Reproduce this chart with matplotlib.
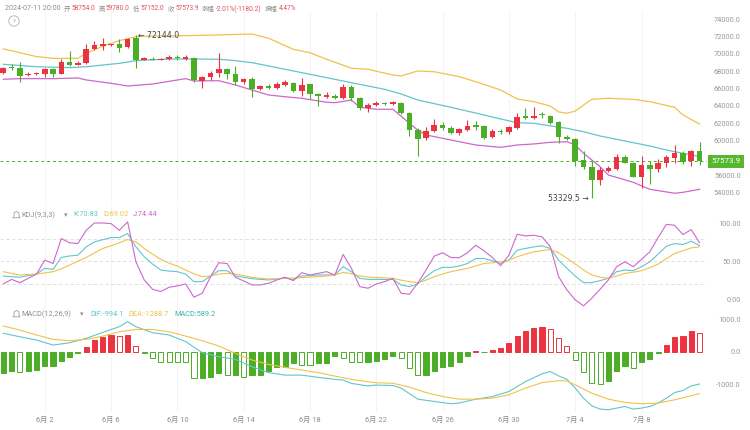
import matplotlib
matplotlib.use('Agg')
import matplotlib.pyplot as plt
import matplotlib.patches as mpatches
from matplotlib.transforms import IdentityTransform
import pandas as pd

plt.rcParams['font.family'] = ['Roboto', 'Noto Sans CJK SC', 'DejaVu Sans']

# 12h candles, 2024-05-30 20:00 .. 2024-07-11 20:00
times = pd.date_range('2024-05-30 20:00', periods=85, freq='12h')

opens = [67840, 68530, 68420, 67570, 67650, 67720, 68270, 67720, 69110, 68760,
         68960, 70580, 70960, 71000, 71160, 70770, 71810, 69340, 69450, 69340,
         69420, 69650, 69420, 69570, 66910, 67310, 67770, 68270, 67690, 66730,
         67080, 65990, 66340, 66100, 66420, 66690, 65720, 66500, 65340, 65030,
         65180, 64880, 66220, 64880, 63720, 64100, 64370, 64260, 64300, 63220,
         61210, 60250, 61100, 61790, 61410, 60830, 61210, 61790, 61680, 60370,
         61140, 60950, 61410, 62830, 62640, 63030, 62830, 62170, 60440, 60170,
         57750, 56970, 55430, 56510, 56710, 58130, 57430, 55820, 57170, 56710,
         57370, 58010, 58520, 57630, 58754.0]
closes = [68420, 68350, 67490, 67720, 67800, 68270, 67720, 69110, 68730, 69000,
          70580, 71040, 71120, 71100, 70730, 71730, 69340, 69500, 69340, 69450,
          69650, 69480, 69620, 67000, 67380, 67770, 68270, 67690, 66730, 67110,
          65990, 66340, 66100, 66500, 66730, 65720, 66420, 65340, 65110, 65260,
          64880, 66220, 64880, 63720, 64100, 64370, 64260, 64400, 63220, 61210,
          60130, 61100, 61790, 61410, 60830, 61290, 61720, 61600, 60250, 61100,
          60950, 61520, 62750, 62600, 62870, 62910, 61990, 60370, 60140, 57670,
          56970, 55430, 56590, 56790, 58130, 57430, 55820, 57170, 56710, 57370,
          58130, 58520, 57550, 58790, 57573.9]
highs = [68550, 68810, 69040, 67880, 67900, 68400, 68400, 69390, 70350, 69190,
         71120, 71500, 71820, 71200, 71700, 71810, 72144.0, 69650, 69600, 69550,
         69880, 69880, 69885, 69690, 67490, 68070, 70080, 68420, 68650, 67260,
         67340, 66420, 66520, 66800, 67030, 66730, 67260, 66580, 65450, 65640,
         65340, 66580, 66420, 65070, 64300, 64600, 64450, 64550, 64450, 63340,
         61410, 61600, 62450, 62180, 61680, 61480, 62370, 62290, 61790, 61300,
         61300, 61720, 63220, 63790, 63840, 63260, 62950, 62290, 60640, 60320,
         58790, 57630, 56900, 57050, 58440, 58360, 57550, 58210, 57670, 57830,
         58320, 59480, 58820, 58900, 59780.0]
lows = [67700, 68150, 66800, 67460, 67550, 67380, 67310, 67640, 68650, 68680,
        68880, 70460, 70460, 70950, 70200, 70740, 68420, 69250, 69250, 69280,
        69340, 69350, 69300, 66800, 66030, 67000, 67310, 67110, 66420, 66570,
        65070, 65840, 65900, 65900, 66300, 65640, 65180, 64800, 64020, 64880,
        64800, 64800, 64570, 63530, 63330, 63990, 64150, 64150, 63070, 60520,
        58210, 60060, 61000, 61210, 60720, 60680, 61140, 61210, 60140, 60290,
        60760, 60760, 61300, 62450, 62490, 62640, 61910, 59680, 60060, 57050,
        56670, 53329.5, 54860, 56390, 56590, 57370, 55750, 54470, 54970, 56400,
        56900, 57370, 57280, 57050, 57152.0]

# bollinger bands (candle index, price)
boll_up_idx = [0, 2, 4, 6, 9, 10, 12, 14, 16, 18, 22, 26, 30, 32, 35, 37, 39, 42, 44, 47,
               48, 50, 52, 55, 57, 60, 62, 64, 66, 67, 68, 69, 70, 71, 73, 76, 78, 81, 82, 84]
boll_up = [70600, 70150, 69700, 69500, 69500, 70080, 70900, 71550, 72000, 72080,
           72120, 72200, 72310, 71820, 70540, 70150, 69390, 68350, 68230, 67570,
           67460, 68040, 67950, 67380, 66800, 65840, 64800, 64490, 63990, 63300,
           63150, 63400, 64100, 64760, 64880, 64760, 64490, 63840, 62950, 61910]
boll_mid_idx = [0, 4, 8, 10, 14, 16, 20, 23, 26, 28, 30, 34, 38, 42, 46, 48, 50, 54, 58, 60,
                62, 64, 66, 68, 70, 72, 74, 76, 78, 80, 82, 84]
boll_mid = [68810, 68530, 68420, 68530, 68920, 69230, 69420, 69420, 69390, 69230,
            69000, 68230, 67460, 66680, 65920, 65380, 64680, 63840, 62950, 62490,
            62060, 61990, 61680, 61410, 61020, 60520, 60140, 59750, 59360, 58900,
            58520, 58130]
boll_low_idx = [0, 2, 6, 9, 10, 13, 15, 18, 22, 23, 26, 28, 30, 32, 34, 36, 39, 40, 42, 43,
                45, 47, 49, 50, 51, 54, 57, 60, 62, 64, 66, 68, 69, 70, 72, 73, 76, 78, 81, 82, 84]
boll_low = [67080, 67150, 67150, 67230, 67000, 66610, 66300, 66530, 67150, 66880,
            66910, 66420, 65840, 65260, 65060, 64880, 64420, 64370, 64680, 63840,
            63610, 63610, 61990, 61210, 60640, 60060, 59480, 59210, 59480, 59600,
            59790, 59860, 59480, 58520, 56970, 56010, 55170, 54360, 53900, 54010, 54360]

k_vals = [30.5, 29.5, 28.8, 31, 33, 40.6, 39.3, 55, 57, 58,
          69, 75.6, 78.5, 81.3, 81.3, 86.6, 69, 56, 46.3, 38.4,
          37, 36.2, 33, 23, 23, 30.5, 37.5, 37.5, 30.5, 28.8,
          27, 26, 25.3, 26.5, 28, 26, 30.5, 31, 31.8, 32,
          31.8, 42.8, 36.2, 27.4, 26, 26, 26, 26, 18.7, 16.5,
          20, 29.6, 37.5, 41.9, 41.9, 43.6, 47, 53.7, 53.7, 50.6,
          47, 51.5, 64.7, 66.9, 69, 70.4, 66.9, 51.5, 40.6, 30.5,
          21.7, 21.7, 24.4, 27.4, 36.2, 38.4, 37.5, 42.8, 49.3, 59.4,
          69.9, 73.4, 72.1, 76.5, 70.83]
d_vals = [36.2, 34, 31.8, 32.5, 33, 34.5, 36.2, 40, 45, 50,
          55, 61, 66.9, 70.5, 74.3, 78.7, 75.5, 66.9, 59.5, 52.4,
          47.5, 43.6, 38.4, 33.5, 29.6, 30.5, 33, 34, 33, 31,
          28.8, 27.5, 26.6, 27, 27.4, 27.8, 28.4, 29, 29.6, 30.5,
          31.8, 35.3, 33.5, 30.5, 29, 28.5, 28, 27.4, 25, 23,
          21.7, 25, 29.6, 33, 36.2, 38.5, 40.6, 44, 47, 48,
          49.3, 51.5, 55.9, 59.5, 62.5, 64, 65.5, 61.2, 54, 46.3,
          38.5, 31.8, 29, 27.4, 30.5, 34, 35.5, 37.5, 41.5, 46.3,
          53.5, 60.3, 64, 67.7, 69.02]
j_vals = [20, 26, 21.7, 27.4, 33, 51.5, 47, 80, 74.3, 73.4,
          91, 100.6, 100.6, 99.7, 91, 102, 49.3, 25.3, 13, 10,
          15.6, 17.4, 20, 2.5, 7.7, 29.6, 48, 47, 28.8, 24,
          18.7, 18.7, 20.9, 25.3, 28.8, 24.4, 34.9, 31.8, 34, 36.2,
          31.8, 59, 40.6, 16.5, 14.3, 20, 23, 27.4, 7.7, 6.4,
          21, 38.4, 56.8, 61.2, 55, 54.6, 61.2, 71.2, 63.8, 55,
          44, 58, 85.7, 83.5, 84.4, 82.2, 69, 29.6, 12, -1,
          -9, 1.2, 13, 25.3, 42.8, 49.3, 42.8, 52.4, 62.5, 81.3,
          98.8, 97.5, 85.3, 91.8, 74.44]

macd_hist = [-645, -585, -615, -585, -565, -440, -435, -275, -155, -50,
             150, 350, 460, 500, 490, 500, 190, -30, -200, -310,
             -320, -325, -330, -820, -810, -770, -670, -720, -710, -790,
             -720, -710, -590, -460, -455, -340, -410, -415, -360, -350,
             -130, -200, -310, -320, -310, -300, -225, -130, -200, -490,
             -730, -710, -580, -460, -430, -330, -130, 20, -15, 50,
             100, 255, 480, 630, 735, 765, 685, 410, 175, -255,
             -610, -970, -980, -900, -590, -430, -510, -330, -225, -30,
             205, 440, 480, 645, 589.2]
dif_idx = [0, 2, 4, 6, 8, 10, 12, 14, 15, 16, 18, 20, 22, 24, 26, 28, 30, 32, 34, 36,
           38, 40, 41, 42, 44, 45, 47, 48, 50, 52, 54, 55, 57, 59, 61, 63, 65, 66, 67, 68,
           69, 70, 71, 72, 73, 74, 75, 76, 77, 78, 79, 80, 81, 82, 83, 84]
dif_vals = [565, 460, 360, 205, 275, 410, 595, 770, 925, 770, 585, 515, 310, -30, -155, -235,
            -460, -645, -720, -720, -790, -850, -870, -975, -1055, -1025, -1040, -1120, -1460,
            -1530, -1600, -1580, -1460, -1380, -1225, -920, -680, -610, -745, -850, -1120,
            -1430, -1665, -1765, -1785, -1735, -1685, -1765, -1735, -1685, -1580, -1430,
            -1255, -1195, -1050, -994.1]
dea_idx = [0, 2, 4, 6, 8, 10, 12, 14, 16, 18, 20, 22, 24, 26, 28, 30, 32, 34, 36, 38,
           40, 42, 44, 45, 47, 49, 51, 53, 55, 57, 59, 61, 63, 65, 67, 68, 69, 71, 73, 75,
           77, 79, 81, 83, 84]
dea_vals = [790, 665, 515, 380, 340, 380, 480, 615, 685, 685, 615, 480, 340, 175, -50, -255,
            -390, -480, -565, -645, -750, -850, -925, -955, -970, -1090, -1255, -1380, -1460,
            -1460, -1430, -1325, -1120, -950, -890, -900, -1020, -1275, -1460, -1560, -1600,
            -1580, -1480, -1355, -1288.7]

tick_days = ['2024-06-02', '2024-06-06', '2024-06-10', '2024-06-14', '2024-06-18',
             '2024-06-22', '2024-06-26', '2024-06-30', '2024-07-04', '2024-07-08']

RED = '#EB3342'
GREEN = '#4CAD26'
TEAL = '#62C5CC'
YELLOW = '#F0C24C'
PURPLE = '#CC68CC'
GRAY = '#909090'
HDR_RED = '#E2505C'

W, H = 750, 430
fig = plt.figure(figsize=(7.5, 4.3), dpi=100)
fig.patch.set_facecolor('white')


def box(x0, y0, x1, y1):
    return [x0 / W, 1 - y1 / H, (x1 - x0) / W, (y1 - y0) / H]


ax = fig.add_axes(box(0, 12, 707, 203))
axk = fig.add_axes(box(0, 207, 707, 308), sharex=ax)
axm = fig.add_axes(box(0, 308, 707, 412), sharex=ax)

idx = list(range(len(closes)))
tick_pos = [i for i, t in enumerate(times) if t.hour == 8 and t.strftime('%Y-%m-%d') in tick_days]
tick_lab = [f'{times[i].month}月 {times[i].day}' for i in tick_pos]

for a in (ax, axk, axm):
    a.set_facecolor('none')
    for s in a.spines.values():
        s.set_visible(False)
    for p in tick_pos:
        a.axvline(p, color='#F3F3F3', lw=0.6, zorder=0)
    a.yaxis.tick_right()
    a.tick_params(axis='y', length=0, pad=24.3, labelsize=5.3, labelcolor='#9A9A9A')
    a.tick_params(axis='x', length=0)

# candles
cols = [RED if c >= o else GREEN for o, c in zip(opens, closes)]
ax.vlines(idx, lows, highs, colors=cols, lw=0.8, zorder=2)
bottoms = [min(o, c) for o, c in zip(opens, closes)]
heights = [max(abs(c - o), 45) for o, c in zip(opens, closes)]
ax.bar(idx, heights, bottom=bottoms, width=0.68, color=cols, zorder=3)

ax.plot(boll_up_idx, boll_up, color=YELLOW, lw=0.9, zorder=1)
ax.plot(boll_mid_idx, boll_mid, color=TEAL, lw=0.9, zorder=1)
ax.plot(boll_low_idx, boll_low, color=PURPLE, lw=0.9, zorder=1)

last = closes[-1]
ax.axhline(last, color=GREEN, lw=0.7, ls=(0, (3, 3)), zorder=1)
ax.annotate(f'{last:.1f}', xy=(1.0, last), xycoords=('axes fraction', 'data'),
            xytext=(3.4, 0), textcoords='offset points', ha='left', va='center',
            fontsize=5.8, color='white',
            bbox=dict(boxstyle='square,pad=0.42', fc='#55B82E', ec='none'))

hi_i = highs.index(max(highs))
lo_i = lows.index(min(lows))
ax.annotate(f'← {highs[hi_i]:.1f}', xy=(hi_i, highs[hi_i]), xytext=(1.5, 0),
            textcoords='offset points', ha='left', va='center', fontsize=5.6,
            color='#444444', family=['DejaVu Sans'])
ax.annotate(f'{lows[lo_i]:.1f} →', xy=(lo_i, lows[lo_i]), xytext=(-2, 0),
            textcoords='offset points', ha='right', va='center', fontsize=5.6,
            color='#444444', family=['DejaVu Sans'])

ax.set_xlim(-0.4, 84.9)
ax.set_ylim(52775, 74855)
price_ticks = list(range(54000, 74001, 2000))
ax.set_yticks(price_ticks)
# the 58000 label sits under the last-price box in the app, so it is left blank
ax.set_yticklabels(['' if abs(v - last) < 1000 else f'{v:.1f}' for v in price_ticks])

# KDJ
for lv in (20, 50, 80):
    axk.axhline(lv, color='#DADADA', lw=0.6, ls=(0, (4, 3)), zorder=0)
axk.plot(idx, k_vals, color=TEAL, lw=0.8)
axk.plot(idx, d_vals, color=YELLOW, lw=0.8)
axk.plot(idx, j_vals, color=PURPLE, lw=0.8)
axk.set_ylim(-11.8, 121.7)
axk.set_yticks([0, 50, 100])
axk.set_yticklabels(['0.00', '50.00', '100.00'])

# MACD
prev = [macd_hist[0]] + macd_hist[:-1]
bar_col = [RED if v >= 0 else GREEN for v in macd_hist]
face = [c if (v >= p) else 'white' for v, p, c in zip(macd_hist, prev, bar_col)]
axm.bar(idx, macd_hist, width=0.62, color=face, edgecolor=bar_col, linewidth=0.7, zorder=2)
axm.plot(dif_idx, dif_vals, color=TEAL, lw=0.8, zorder=3)
axm.plot(dea_idx, dea_vals, color=YELLOW, lw=0.8, zorder=3)
axm.set_ylim(-1855, 1345)
axm.set_yticks([-1000, 0, 1000])
axm.set_yticklabels(['-1000.0', '0.0', '1000.0'])

axm.set_xticks(tick_pos)
axm.set_xticklabels(tick_lab, fontsize=5.3, color='#8C8C8C')
axm.tick_params(axis='x', pad=3.2)
plt.setp(ax.get_xticklabels(), visible=False)
plt.setp(axk.get_xticklabels(), visible=False)

for a in (ax, axk, axm):
    for lbl in a.get_yticklabels():
        lbl.set_horizontalalignment('right')

renderer = fig.canvas.get_renderer()


def ftext(x, y, s, color=GRAY, size=5.3, **kw):
    return fig.text(x / W, 1 - y / H, s, color=color, fontsize=size, va='center', ha='left', **kw)


def text_row(x, y, parts):
    # lay pieces out left to right, each with the gap that follows it
    for s, c, size, gap in parts:
        t = ftext(x, y, s, c, size)
        bb = t.get_window_extent(renderer)
        x += bb.width + gap


text_row(5, 9, [('2024-07-11 20:00', GRAY, 5.2, 3), ('开', GRAY, 4.6, 1.3),
                (f'{opens[-1]:.1f}', HDR_RED, 4.7, 3.3), ('高', GRAY, 4.6, 1.3),
                (f'{highs[-1]:.1f}', HDR_RED, 4.7, 3.3), ('低', GRAY, 4.6, 1.3),
                (f'{lows[-1]:.1f}', HDR_RED, 4.7, 3.3), ('收', GRAY, 4.6, 1.3),
                (f'{closes[-1]:.1f}', HDR_RED, 4.7, 3.3), ('涨幅', GRAY, 4.6, 1.3),
                ('-2.01%(-1180.2)', HDR_RED, 4.7, 3.3), ('振幅', GRAY, 4.6, 1.3),
                ('4.47%', HDR_RED, 4.7, 0)])

fig.patches.append(mpatches.Circle((14, H - 21), 5.2, transform=IdentityTransform(),
                                   fill=False, ec='#B0B0B0', lw=0.6))
fig.text(14.3 / W, 1 - 21.5 / H, '›', color='#A0A0A0', fontsize=6, ha='center', va='center',
         family=['DejaVu Sans'])


def bell(cx, cy):
    pts = [(cx, cy - 3.6), (cx + 2.3, cy - 2.2), (cx + 2.6, cy + 1.5), (cx + 3.6, cy + 2.8),
           (cx - 3.6, cy + 2.8), (cx - 2.6, cy + 1.5), (cx - 2.3, cy - 2.2)]
    fig.patches.append(mpatches.Polygon([(x, H - y) for x, y in pts], closed=True,
                                        transform=IdentityTransform(), fill=False,
                                        ec='#A0A0A0', lw=0.6))


bell(16.5, 215)
ftext(21, 215, 'KDJ(9,3,3)')
ftext(63.5, 215.5, '▾', GRAY, 5, family=['DejaVu Sans'])
ftext(73, 215, f'K:{k_vals[-1]:.2f}', TEAL)
ftext(103, 215, f'D:{d_vals[-1]:.2f}', YELLOW)
ftext(133, 215, f'J:{j_vals[-1]:.2f}', PURPLE)

bell(16.5, 314)
ftext(21, 314, 'MACD(12,26,9)')
ftext(80, 314.5, '▾', GRAY, 5, family=['DejaVu Sans'])
ftext(90, 314, f'DIF:{dif_vals[-1]:.1f}', TEAL)
ftext(128, 314, f'DEA:{dea_vals[-1]:.1f}', YELLOW)
ftext(174, 314, f'MACD:{macd_hist[-1]:.1f}', '#3DB5A6')

fig.savefig('out.png', dpi=100, facecolor='white')
